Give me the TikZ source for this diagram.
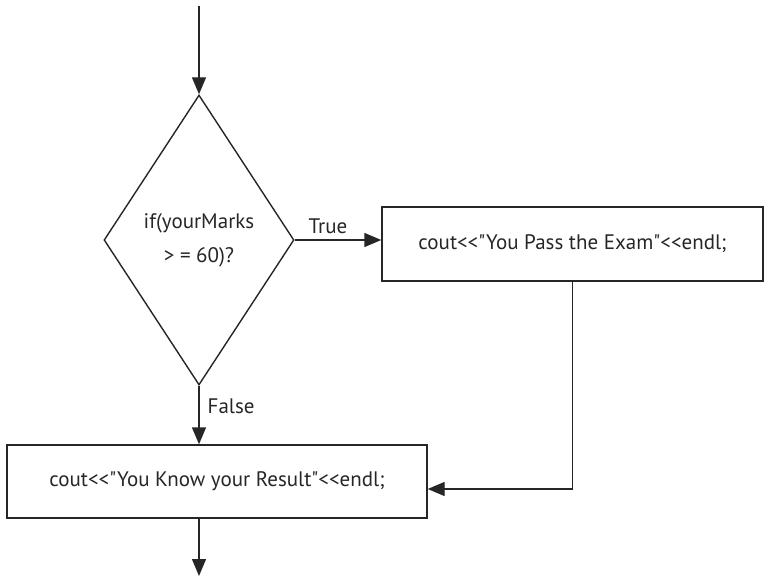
\documentclass[tikz,border=0pt]{standalone}
\usepackage{fontspec}
\newfontfamily\diagfont{PT Sans}
\usetikzlibrary{shapes.geometric,arrows.meta}
\begin{document}
\begin{tikzpicture}[x=1pt,y=-1pt,
  line width=1.4pt,
  every node/.style={font=\diagfont\fontsize{21}{34}\selectfont, text=black!85},
  arr/.style={draw=black!85,-{Triangle[length=17pt,width=14pt]}},
  procbox/.style={draw=black!85, rectangle, inner sep=0pt},
  decbox/.style={draw=black!85, diamond, inner sep=0pt, align=center, minimum width=190pt, minimum height=290pt},
  lbl/.style={inner sep=0pt}
]
\useasboundingbox (0,0) rectangle (764,578);
\coordinate (start) at (199,6);
\node[decbox] (dec) at (199,240) {if(yourMarks\\> = 60)?};
\node[procbox, minimum width=381pt, minimum height=74pt] (pass) at (572.5,244) {cout<<"You Pass the Exam"<<endl;};
\node[procbox, minimum width=420pt, minimum height=73pt] (result) at (217,481.5) {cout<<"You Know your Result"<<endl;};
\coordinate (end) at (199,576);
\coordinate (rin) at ([yshift=-7.5pt]result.east);

\draw[arr] (start) -- (dec.north);
\draw[arr] (dec.east) -- (dec.east -| pass.west);
\node[lbl, anchor=base] (truelbl) at (328,233) {True};
\draw[arr] (dec.south) -- (dec.south |- result.north);
\node[lbl, anchor=base west] (falselbl) at (207,413) {False};
\draw[arr] (pass.south) -- (pass.south |- rin) -- (rin);
\draw[arr] (dec.south |- result.south) -- (end);
\end{tikzpicture}
\end{document}
